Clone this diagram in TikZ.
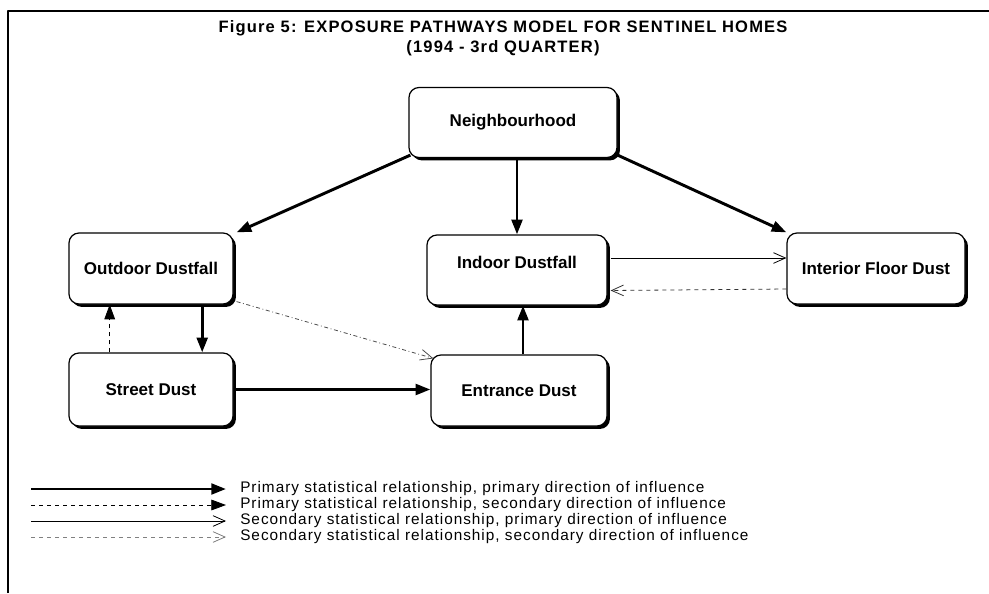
\documentclass[tikz,border=0pt]{standalone}
\usepackage{fontspec}
\setmainfont{Liberation Sans}
\newfontfamily\titlefont[LetterSpace=7]{Liberation Sans}
\newfontfamily\legendfont[LetterSpace=6.5]{Liberation Sans}
\usetikzlibrary{arrows.meta,shadows,calc}

\begin{document}
\begin{tikzpicture}[x=0.75pt,y=-0.75pt, line join=round,
		box/.style={draw, line width=0.9pt, rounded corners=7.5pt, fill=white, inner sep=0pt,
			font=\fontsize{12.75}{15}\selectfont\bfseries,
			drop shadow={shadow xshift=2.2pt, shadow yshift=-2.2pt, opacity=1, fill=black}},
		prim/.style={line width=2.2pt, -{Triangle[length=11pt,width=8pt]}},
		primsec/.style={line width=0.6pt, dashed, -{Triangle[length=11pt,width=8pt]}},
		secprim/.style={line width=0.6pt, -{Straight Barb[length=9pt,width=8pt]}},
		secsec/.style={line width=0.6pt, dashed, gray, -{Straight Barb[length=9pt,width=8pt]}},
		legtext/.style={anchor=west, inner sep=0pt, font=\legendfont\fontsize{11.5}{14}\selectfont}]
		\useasboundingbox (0,0) rectangle (989,593);
		% frame
		\draw[line width=2pt] (8,593)--(8,11)--(989,11);
		\node[align=center, font=\titlefont\fontsize{12.4}{15}\selectfont\bfseries] (title) at (503,38.5)
			{Figure 5: EXPOSURE PATHWAYS MODEL FOR SENTINEL HOMES\\(1994 - 3rd QUARTER)};
		% boxes
		\node[box, minimum width=156pt, minimum height=52.5pt] (nb) at (513,122.5) {Neighbourhood};
		\node[box, minimum width=123pt, minimum height=53.25pt] (od) at (151,268.5) {Outdoor Dustfall};
		\node[box, minimum width=123pt, minimum height=54.75pt] (sd) at (151,389.5) {Street Dust};
		\node[box, minimum width=135pt, minimum height=52.5pt, text depth=12pt] (id) at (517,270) {Indoor Dustfall};
		\node[box, minimum width=133.5pt, minimum height=53.25pt] (ifd) at (876,268.5) {Interior Floor Dust};
		\node[box, minimum width=132pt, minimum height=53.25pt] (ed) at (519,390.5) {Entrance Dust};
		% pathways
		\draw[prim] ($(nb.south west)+(2,-3)$)--($(od.north east)+(3,0)$);
		\draw[prim] (id.north |- nb.south)--(id.north);
		\draw[prim] ($(nb.south east)+(0,-3)$)--(ifd.north west);
		\draw[prim] ($(od.south)!0.62!(od.south east)$)--($(sd.north)!0.62!(sd.north east)$);
		\draw[primsec] ($(sd.north)!0.5!(sd.north west)$)--($(od.south)!0.5!(od.south west)$);
		\draw[line width=0.6pt, black!70, dash dot, -{Straight Barb[length=9pt,width=8pt]}]
			($(od.south east)+(3,-3)$)--($(ed.north west)+(3,4)$);
		\draw[prim] (sd.east)--(sd.east -| ed.west);
		\draw[prim] ($(ed.north)+(4,0)$)--($(id.south)+(6,0)$);
		\draw[secprim] ($(id.east)+(3,-12)$)--($(id.east -| ifd.west)+(0,-12)$);
		\draw[secsec, black!80] ($(ifd.west)+(0,20.5)$)--($(id.east)+(3,20.5)$);
		% legend
		\coordinate (l1) at (31,489); \coordinate (r1) at (226,489);
		\coordinate (l2) at (31,505); \coordinate (r2) at (226,505);
		\coordinate (l3) at (31,521); \coordinate (r3) at (226,521);
		\coordinate (l4) at (31,537); \coordinate (r4) at (226,537);
		\draw[prim] (l1)--(r1);
		\draw[primsec] (l2)--(r2);
		\draw[secprim] (l3)--(r3);
		\draw[secsec] (l4)--(r4);
		\node[legtext] (t1) at (240,489) {Primary statistical relationship, primary direction of influence};
		\node[legtext] (t2) at (240,505) {Primary statistical relationship, secondary direction of influence};
		\node[legtext] (t3) at (240,521) {Secondary statistical relationship, primary direction of influence};
		\node[legtext] (t4) at (240,537) {Secondary statistical relationship, secondary direction of influence};
\end{tikzpicture}
\end{document}
